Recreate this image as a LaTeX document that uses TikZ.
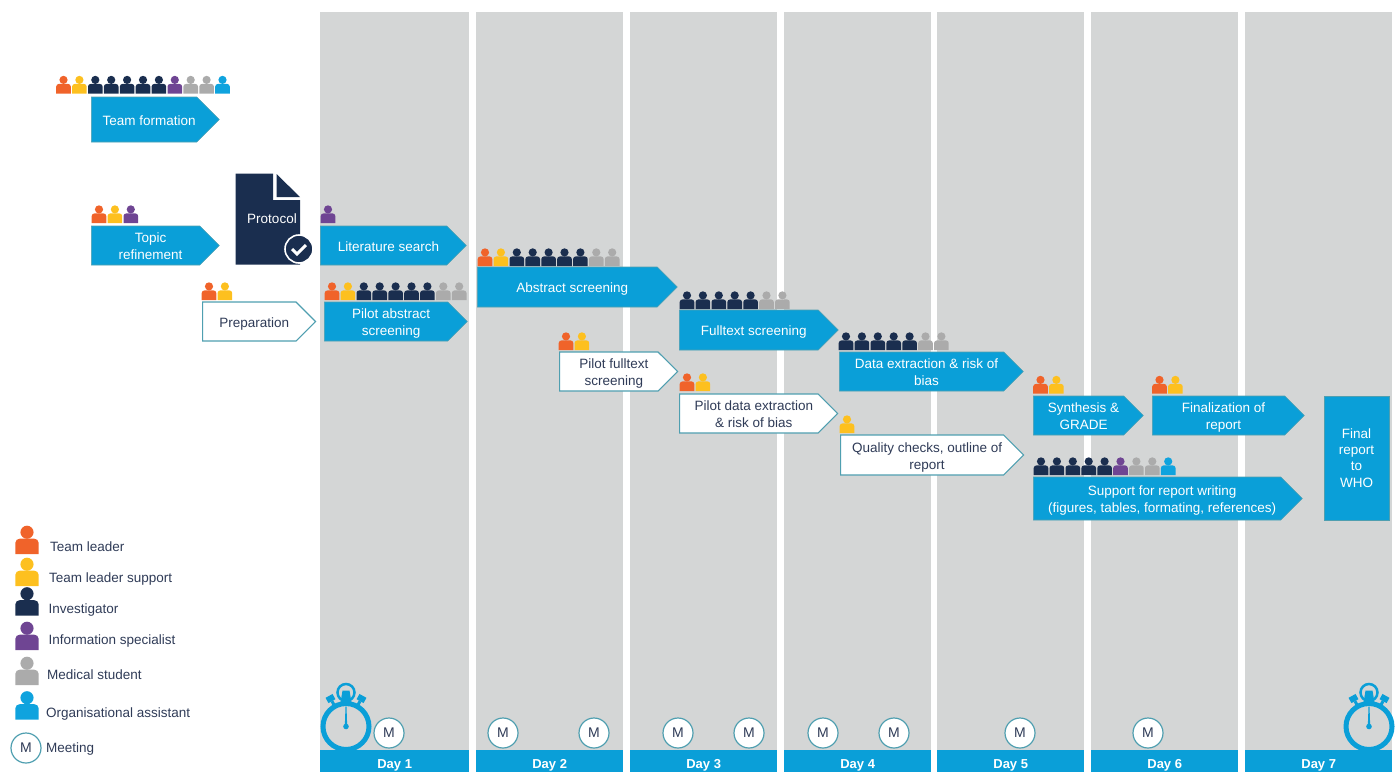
\documentclass[tikz,border=0pt]{standalone}
\usepackage{fontspec}
\setmainfont{Liberation Sans}
\usetikzlibrary{shapes.symbols, positioning}

\definecolor{dayblue}{HTML}{0A9FD8}
\definecolor{daygray}{HTML}{D4D6D6}
\definecolor{navy}{HTML}{1A2E4F}
\definecolor{tealline}{HTML}{4F9FB0}
\definecolor{labeltext}{HTML}{2F3B57}
\definecolor{tleader}{HTML}{F0632A}
\definecolor{tsupport}{HTML}{FDC01F}
\definecolor{infospec}{HTML}{6F4593}
\definecolor{medstud}{HTML}{ABABAB}
\definecolor{orgassist}{HTML}{0FA3DE}

\tikzset{
	person/.pic={
		\path [pic actions] (-7.3,0) -- (-7.3,-7) to [out=90, in=180] (-4.5,-9.6) -- (4.5,-9.6)
			to [out=0, in=90] (7.3,-7) -- (7.3,0) -- cycle;
		\path [pic actions] (0,-13.6) circle (4.1);
	},
	stopwatch/.pic={
		\draw [dayblue, line width=5] (0,0) circle (23);
		\draw [dayblue, line width=2.5] (0,-34) circle (8.5);
		\fill [daygray] (-5,-27) rectangle (5,-36);
		\fill [dayblue] (-5.5,-24) -- (5.5,-24) -- (3.5,-36) -- (-3.5,-36) -- cycle;
		\fill [dayblue, rotate=29] (-4,-35) rectangle (4,-29);
		\fill [dayblue, rotate=29] (-1.5,-29) rectangle (1.5,-24);
		\fill [dayblue, rotate=-29] (-4,-35) rectangle (4,-29);
		\fill [dayblue, rotate=-29] (-1.5,-29) rectangle (1.5,-24);
		\fill [dayblue] (-0.5,-20) -- (0.5,-20) -- (1.2,0) -- (-1.2,0) -- cycle;
		\fill [dayblue] (0,0) circle (2.8);
	},
	stepbox/.style={signal, signal to=east, signal pointer angle=90, draw=tealline, line width=0.6,
		fill=dayblue, text=white, anchor=west, inner sep=0, font=\fontsize{13.5}{17}\selectfont},
	pilotbox/.style={stepbox, fill=white, draw=tealline, line width=1.2, text=labeltext},
	meeting/.style={circle, draw=tealline, line width=1.2, fill=white, text=labeltext, minimum size=30,
		inner sep=0, font=\fontsize{14}{14}\selectfont},
	daybar/.style={fill=dayblue, text=white, minimum height=22, inner sep=0, text height=15pt, text depth=0pt,
		font=\bfseries\fontsize{13}{13}\selectfont},
	legendtext/.style={anchor=west, inner sep=0, text=labeltext, text height=10pt, text depth=3pt,
		font=\fontsize{13.5}{16}\selectfont},
}

% fila de pessoas: x inicial, base, cores
\newcommand{\personrow}[3]{
	\foreach \c [count=\i from 0] in {#3}
		\pic [fill=\c] at (#1 + 15.9*\i, #2) {person};
}
% texto da atividade, um pouco para a direita
\newcommand{\steptext}[1]{\hspace*{10pt}\raisebox{-6pt}[0pt][0pt]{\begin{tabular}{@{}c@{}}#1\end{tabular}}}

\begin{document}
\begin{tikzpicture}[x=1pt, y=-1pt]
	\useasboundingbox (0,0) rectangle (1398,772);

	% colunas dos dias
	\foreach \x/\w [count=\d] in {320/149, 476/147, 630/147, 784/147, 937/147, 1091/147, 1245/147} {
		\fill [daygray] (\x,12) rectangle ++(\w,738);
		\node [daybar, minimum width=\w, anchor=north west] (day\d) at (\x,750) {Day \d};
	}

	% documento do protocolo
	\fill [navy] (235.5,173.5) -- (273,173.5) -- (273,200) -- (300,200) -- (300,264.5) -- (235.5,264.5) -- cycle;
	\fill [navy] (276.5,174) -- (300,197) -- (276.5,197) -- cycle;
	\node [text=white, inner sep=0, font=\fontsize{13.5}{16}\selectfont] (protocol) at (272,218.5) {Protocol};
	\node [circle, fill=navy, draw=white, line width=1.6, minimum size=28, inner sep=0] (check) at (299,249) {};
	\draw [white, line width=3] (292,249) -- (297,254) -- (306,245);

	% atividades
	\node [stepbox, minimum width=128, minimum height=45] (team) at (91,119.5) {\steptext{Team formation}};
	\node [stepbox, minimum width=128, minimum height=39] (topic) at (91,245.5) {\steptext{Topic\\refinement}};
	\node [pilotbox, minimum width=113, minimum height=39] (prep) at (202,321.5) {\steptext{Preparation}};
	\node [stepbox, minimum width=146, minimum height=39] (litsearch) at (320,245.5) {\steptext{Literature search}};
	\node [stepbox, minimum width=143, minimum height=39] (pilotabs) at (324,321.5) {\steptext{Pilot abstract\\screening}};
	\node [stepbox, minimum width=200, minimum height=40] (abstract) at (477,287) {\steptext{Abstract screening}};
	\node [stepbox, minimum width=159, minimum height=40] (fulltext) at (679,330) {\steptext{Fulltext screening}};
	\node [pilotbox, minimum width=118, minimum height=39] (pilotfull) at (559,371.5) {\steptext{Pilot fulltext\\screening}};
	\node [stepbox, minimum width=184, minimum height=39] (extract) at (839,371.5) {\steptext{Data extraction \& risk of\\bias}};
	\node [pilotbox, minimum width=158, minimum height=39] (pilotdata) at (679,413.5) {\steptext{Pilot data extraction\\\& risk of bias}};
	\node [pilotbox, minimum width=183, minimum height=40] (quality) at (840,455) {\steptext{Quality checks, outline of\\report}};
	\node [stepbox, minimum width=110, minimum height=39] (synth) at (1033,415.5) {\steptext{Synthesis \&\\GRADE}};
	\node [stepbox, minimum width=152, minimum height=39] (final) at (1152,415.5) {\steptext{Finalization of\\report}};
	\node [stepbox, minimum width=269, minimum height=43] (support) at (1033,498.5) {\steptext{Support for report writing\\(figures, tables, formating, references)}};
	\node [rectangle, draw=tealline, line width=0.6, fill=dayblue, text=white, align=center, inner sep=0,
		minimum width=65, minimum height=124, font=\fontsize{13.5}{16.3}\selectfont] (whoreport) at (1356.5,458) {Final\\report\\to\\WHO};

	% equipas
	\personrow{63.5}{93.5}{tleader,tsupport,navy,navy,navy,navy,navy,infospec,medstud,medstud,orgassist}
	\personrow{99}{223}{tleader,tsupport,infospec}
	\personrow{328}{223}{infospec}
	\personrow{209}{300}{tleader,tsupport}
	\personrow{332}{300}{tleader,tsupport,navy,navy,navy,navy,navy,medstud,medstud}
	\personrow{485}{266}{tleader,tsupport,navy,navy,navy,navy,navy,medstud,medstud}
	\personrow{687}{309}{navy,navy,navy,navy,navy,medstud,medstud}
	\personrow{566}{350}{tleader,tsupport}
	\personrow{846}{350}{navy,navy,navy,navy,navy,medstud,medstud}
	\personrow{687}{391}{tleader,tsupport}
	\personrow{847}{433}{tsupport}
	\personrow{1040.5}{393.5}{tleader,tsupport}
	\personrow{1159.5}{393.5}{tleader,tsupport}
	\personrow{1041}{475}{navy,navy,navy,navy,navy,infospec,medstud,medstud,orgassist}

	% reuniões
	\foreach \x [count=\i] in {389, 503, 594, 678, 749, 823, 894, 1020, 1148}
		\node [meeting] (meet\i) at (\x,733) {M};

	% cronómetros
	\pic at (346,726.5) {stopwatch};
	\pic at (1369,726.5) {stopwatch};

	% legenda
	\pic [fill=tleader, scale=1.6] at (27,554) {person};
	\pic [fill=tsupport, scale=1.6] at (27,586) {person};
	\pic [fill=navy, scale=1.6] at (27,615.5) {person};
	\pic [fill=infospec, scale=1.6] at (27,650) {person};
	\pic [fill=medstud, scale=1.6] at (27,685) {person};
	\pic [fill=orgassist, scale=1.6] at (27,719.5) {person};
	\node [legendtext] (lleader) at (50,547.5) {Team leader};
	\node [legendtext] (lsupport) at (49,578.5) {Team leader support};
	\node [legendtext] (linvest) at (48.5,610) {Investigator};
	\node [legendtext] (linfo) at (48.5,640.5) {Information specialist};
	\node [legendtext] (lmed) at (47,676) {Medical student};
	\node [legendtext] (lorg) at (46,714) {Organisational assistant};
	\node [meeting] (lmeetm) at (26,748) {M};
	\node [legendtext] (lmeet) at (46,748.5) {Meeting};
\end{tikzpicture}
\end{document}
